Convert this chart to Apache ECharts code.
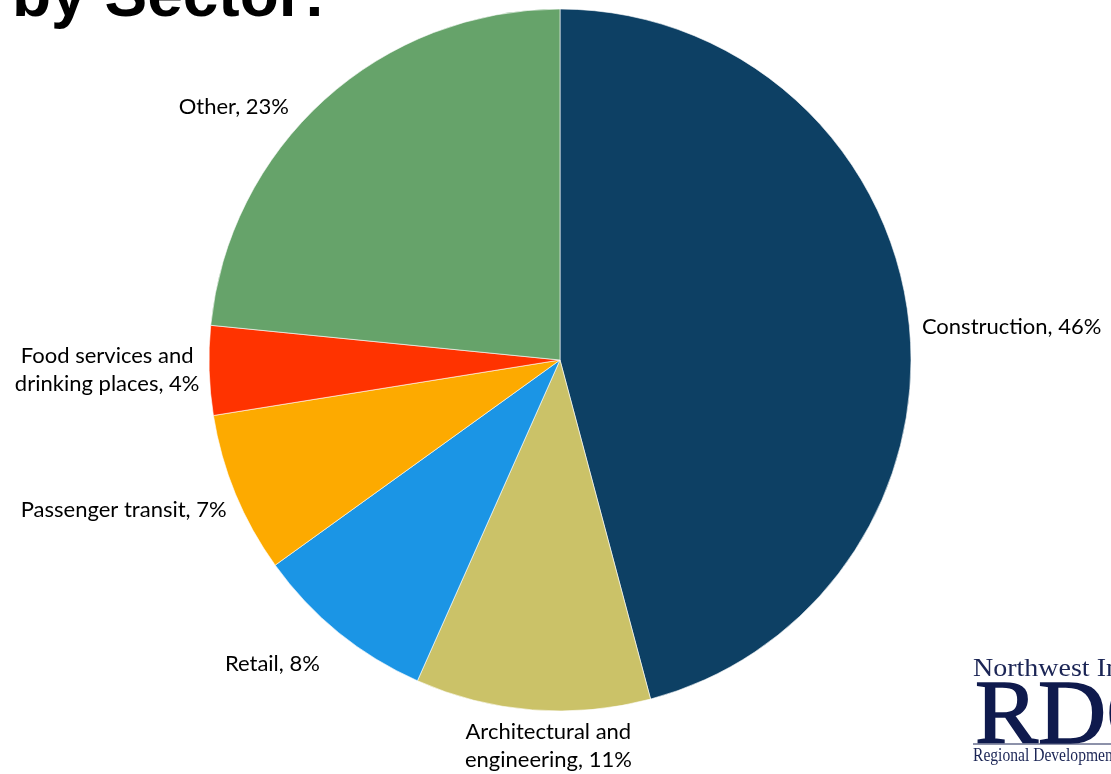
<!DOCTYPE html>
<html>
<head>
<meta charset="utf-8">
<script src="https://cdn.jsdelivr.net/npm/echarts@6/dist/echarts.min.js"></script>
<style>
html,body{margin:0;padding:0;background:#fff;}
#c{width:1111px;height:774px;}
</style>
</head>
<body>
<div id="c"></div>
<script>
var categories = ['Construction', 'Architectural and\nengineering', 'Retail', 'Passenger transit', 'Food services and\ndrinking places', 'Other'];
var values = [45.8, 10.8, 8.4, 7.4, 4.1, 23.4];
var colors = ['#0D4064', '#CBC268', '#1B95E5', '#FDAA00', '#FF3300', '#66A36A'];

var labelShift = [[-5, 14], [22, 22], [-5, 21], [9, 11], [-83, -1], [-21, 17]];
var centeredLabels = [1, 4];

var chart = echarts.init(document.getElementById('c'));
var data = categories.map(function (c, i) {
  return { name: c, value: values[i], itemStyle: { color: colors[i] } };
});
chart.setOption({
  animation: false,
  backgroundColor: '#ffffff',
  graphic: [
    { type: 'text', left: 12, top: -34, style: { text: 'by Sector:', font: 'bold 64px "Liberation Sans", Arial, sans-serif', fill: '#000' } },
    { type: 'text', x: 973, y: 669, scaleX: 1.12, style: { text: 'Northwest Inland', font: '25px "Liberation Serif", serif', fill: '#1b2555', verticalAlign: 'middle' } },
    { type: 'text', x: 975, y: 719, scaleX: 1.05, style: { text: 'RDO', font: '90px "Liberation Serif", serif', fill: '#0f1a4d', stroke: '#0f1a4d', lineWidth: 1.5, verticalAlign: 'middle' } },
    { type: 'line', shape: { x1: 973, y1: 744, x2: 1111, y2: 744 }, style: { stroke: '#1b2555', lineWidth: 1 } },
    { type: 'text', x: 973, y: 756, scaleX: 0.82, style: { text: 'Regional Development', font: '19px "Liberation Serif", serif', fill: '#1b2555', verticalAlign: 'middle' } }
  ],
  series: [{
    type: 'pie',
    center: [560, 360],
    radius: 351,
    startAngle: 90,
    clockwise: true,
    data: data,
    itemStyle: { borderColor: '#ffffff', borderWidth: 0.6 },
    label: {
      show: true,
      position: 'outside',
      color: '#000',
      overflow: 'none',
      fontFamily: 'Lato, "Noto Sans", sans-serif',
      fontSize: 22,
      lineHeight: 28,
      formatter: function (p) { return p.name + ', ' + Math.round(p.value) + '%'; }
    },
    labelLine: { show: false, length: 14, length2: 0 },
    labelLayout: function (p) {
      var s = labelShift[p.dataIndex];
      var r = { dx: s[0], dy: s[1] };
      if (centeredLabels.indexOf(p.dataIndex) >= 0) r.align = 'center';
      return r;
    }
  }]
});
</script>
</body>
</html>
